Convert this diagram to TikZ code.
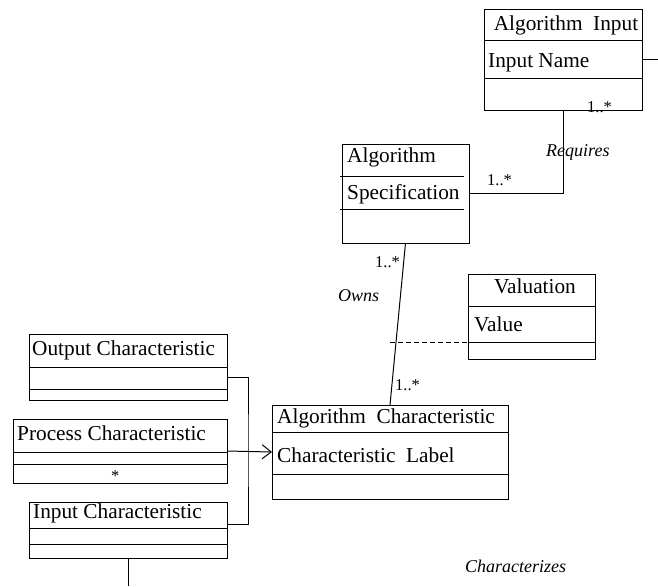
\documentclass[tikz,border=0pt]{standalone}
\usepackage{fontspec}
\setmainfont{Liberation Serif}
\usetikzlibrary{arrows.meta}

\tikzset{
  classbox/.style={draw, line width=1pt, inner sep=0pt, outer sep=0pt, anchor=north west},
  ctitle/.style={anchor=base, inner sep=0pt, font=\fontsize{21.3}{25}\selectfont},
  cattr/.style={anchor=base west, inner sep=0pt, font=\fontsize{21.3}{25}\selectfont},
  mult/.style={anchor=base west, inner sep=0pt, font=\fontsize{16.5}{19}\selectfont},
  role/.style={anchor=base west, inner sep=0pt, font=\fontsize{18}{21}\selectfont\itshape},
  link/.style={line width=1pt},
}

\begin{document}
\begin{tikzpicture}[x=1pt,y=-1pt]
  \useasboundingbox (0,0) rectangle (658,586);
  % \draw[help lines, gray!50, very thin] (0,0) grid[step=50] (658,586);

  % Algorithm Input
  \node[classbox, minimum width=158pt, minimum height=100pt] (ainput) at (484,10) {};
  \draw[link] (484,41) -- (642,41);
  \draw[link] (484,78) -- (642,78);
  \node[ctitle] (ainputT) at (566,31) {Algorithm\ \ Input};
  \node[cattr] (ainputA) at (488,67) {Input Name};

  % Algorithm
  \node[classbox, minimum width=127pt, minimum height=99pt] (alg) at (342,144) {};
  \draw[link] (340,176) -- (464,176);
  \draw[link] (340,209) -- (464,209);
  \node[cattr] (algT) at (347,162) {Algorithm};
  \node[cattr] (algA) at (347,199) {Specification};

  % Valuation
  \node[classbox, minimum width=127pt, minimum height=85pt] (val) at (468,274) {};
  \draw[link] (468,306) -- (595,306);
  \draw[link] (468,342) -- (595,342);
  \node[ctitle] (valT) at (535,293) {Valuation};
  \node[cattr] (valA) at (474,331) {Value};

  % Algorithm Characteristic
  \node[classbox, minimum width=236pt, minimum height=94pt] (achar) at (272,405) {};
  \draw[link] (272,432) -- (508,432);
  \draw[link] (272,474) -- (508,474);
  \node[cattr] (acharT) at (277,423) {Algorithm\ \ Characteristic};
  \node[cattr] (acharA) at (277,462) {Characteristic\ \ Label};

  % Output Characteristic
  \node[classbox, minimum width=198pt, minimum height=66pt] (outc) at (29,334) {};
  \draw[link] (29,367) -- (227,367);
  \draw[link] (29,389) -- (227,389);
  \node[cattr] (outcT) at (32,355) {Output Characteristic};

  % Process Characteristic
  \node[classbox, minimum width=214pt, minimum height=64pt] (proc) at (13,419) {};
  \draw[link] (13,452) -- (227,452);
  \draw[link] (13,464) -- (227,464);
  \node[cattr] (procT) at (17,440) {Process Characteristic};
  \node[mult] (procM) at (111,481) {*};

  % Input Characteristic
  \node[classbox, minimum width=198pt, minimum height=56pt] (inc) at (29,502) {};
  \draw[link] (29,528) -- (227,528);
  \draw[link] (29,544) -- (227,544);
  \node[cattr] (incT) at (33,518) {Input Characteristic};

  % connectors
  \coordinate (rightEnd) at (658,60);
  \coordinate (bus) at (248,450);
  \coordinate (incBot) at (128,586);
  \coordinate (assoc) at (390,342);

  \draw[link] (ainput.east) -- (rightEnd);
  \draw[link] (ainput.south) |- (alg.east);
  \draw[link] (alg.south) -- (achar.north);
  \draw[link, dash pattern=on 5pt off 3pt] (assoc) -- (val.west |- assoc);
  \draw[link] ([yshift=-10pt]outc.east) -| (bus) |- ([yshift=6pt]inc.east);
  \draw[link, -{Straight Barb[length=9pt,width=14pt]}] (proc.east) -- (achar.west);
  \draw[link] (inc.south) -- (incBot);

  % labels
  \node[mult] (m1) at (587,112) {1..*};
  \node[role] (reqL) at (546,156) {Requires};
  \node[mult] (m2) at (487,185) {1..*};
  \node[mult] (m3) at (375,267) {1..*};
  \node[role] (ownsL) at (338,301) {Owns};
  \node[mult] (m4) at (395,390) {1..*};
  \node[role] (charL) at (465,572) {Characterizes};
\end{tikzpicture}
\end{document}
